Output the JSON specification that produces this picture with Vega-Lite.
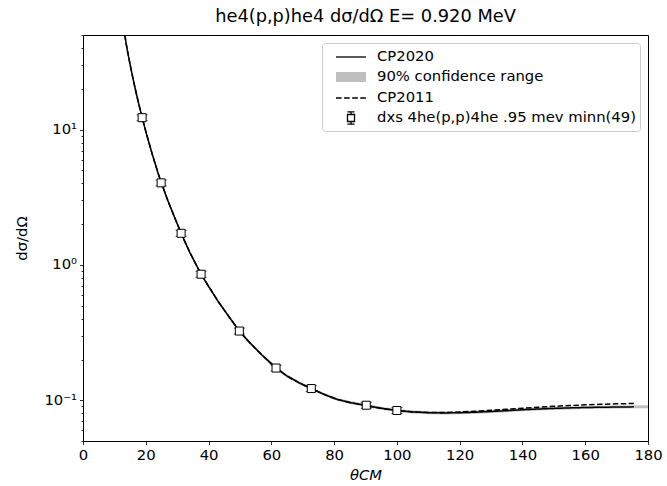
{
  "$schema": "https://vega.github.io/schema/vega-lite/v6.json",
  "autosize": {"type": "none"},
  "padding": {"left": 83, "top": 35, "right": 19, "bottom": 45},
  "width": 565,
  "height": 406,
  "background": "white",
  "config": {
    "view": {"stroke": "#000", "strokeWidth": 1},
    "font": "DejaVu Sans",
    "legend": {
      "orient": "none", "legendX": 239, "legendY": 8,
      "padding": 4, "fillColor": "rgba(255,255,255,0.8)", "strokeColor": "#cccccc", "cornerRadius": 3,
      "symbolSize": 324, "symbolOffset": 15, "labelOffset": 16, "rowPadding": 3,
      "labelFont": "DejaVu Sans", "labelFontSize": 14.8, "labelColor": "#000", "labelLimit": 400,
      "symbolStrokeWidth": 1.3, "symbolOpacity": 1
    }
  },
  "title": {"text": "he4(p,p)he4 dσ/dΩ E= 0.920 MeV", "fontSize": 17.8, "font": "DejaVu Sans", "fontWeight": "normal", "color": "#000", "offset": 1},
  "datasets": {
    "band": [
      {"theta": 13.3, "lo": 48.75, "hi": 51.25},
      {"theta": 14, "lo": 38.9, "hi": 40.9},
      {"theta": 15, "lo": 29.54, "hi": 31.06},
      {"theta": 16, "lo": 22.82, "hi": 23.99},
      {"theta": 17, "lo": 17.94, "hi": 18.86},
      {"theta": 18, "lo": 14.33, "hi": 15.07},
      {"theta": 19, "lo": 11.6, "hi": 12.2},
      {"theta": 20, "lo": 9.46, "hi": 9.94},
      {"theta": 22, "lo": 6.48, "hi": 6.82},
      {"theta": 24, "lo": 4.58, "hi": 4.82},
      {"theta": 25, "lo": 3.92, "hi": 4.12},
      {"theta": 27, "lo": 2.93, "hi": 3.08},
      {"theta": 29, "lo": 2.24, "hi": 2.36},
      {"theta": 31.26, "lo": 1.67, "hi": 1.756},
      {"theta": 34, "lo": 1.209, "hi": 1.271},
      {"theta": 37.62, "lo": 0.833, "hi": 0.875},
      {"theta": 40, "lo": 0.678, "hi": 0.712},
      {"theta": 43, "lo": 0.5265, "hi": 0.5535},
      {"theta": 46, "lo": 0.419, "hi": 0.441},
      {"theta": 49.81, "lo": 0.3165, "hi": 0.3327},
      {"theta": 53, "lo": 0.2613, "hi": 0.2747},
      {"theta": 57, "lo": 0.2106, "hi": 0.2214},
      {"theta": 61.5, "lo": 0.1687, "hi": 0.1773},
      {"theta": 65, "lo": 0.1472, "hi": 0.1548},
      {"theta": 69, "lo": 0.1307, "hi": 0.1374},
      {"theta": 72.73, "lo": 0.119, "hi": 0.125},
      {"theta": 77, "lo": 0.1073, "hi": 0.1128},
      {"theta": 81, "lo": 0.099, "hi": 0.104},
      {"theta": 85, "lo": 0.0938, "hi": 0.0986},
      {"theta": 90.24, "lo": 0.0892, "hi": 0.0938},
      {"theta": 95, "lo": 0.085, "hi": 0.0894},
      {"theta": 100, "lo": 0.0819, "hi": 0.0861},
      {"theta": 105, "lo": 0.08, "hi": 0.0841},
      {"theta": 110, "lo": 0.0789, "hi": 0.0829},
      {"theta": 115, "lo": 0.0786, "hi": 0.0826},
      {"theta": 120, "lo": 0.0789, "hi": 0.0829},
      {"theta": 125, "lo": 0.0796, "hi": 0.0836},
      {"theta": 130, "lo": 0.0805, "hi": 0.0847},
      {"theta": 135, "lo": 0.0817, "hi": 0.0859},
      {"theta": 140, "lo": 0.083, "hi": 0.0872},
      {"theta": 145, "lo": 0.084, "hi": 0.0884},
      {"theta": 150, "lo": 0.0849, "hi": 0.0893},
      {"theta": 155, "lo": 0.0856, "hi": 0.09},
      {"theta": 160, "lo": 0.0862, "hi": 0.0906},
      {"theta": 165, "lo": 0.0866, "hi": 0.091},
      {"theta": 170, "lo": 0.0869, "hi": 0.0913},
      {"theta": 175.5, "lo": 0.0872, "hi": 0.0916},
      {"theta": 180, "lo": 0.0874, "hi": 0.0918}
    ],
    "curves": [
      {"theta": 13.3, "y": 50, "model": "CP2020"},
      {"theta": 14, "y": 39.9, "model": "CP2020"},
      {"theta": 15, "y": 30.3, "model": "CP2020"},
      {"theta": 16, "y": 23.4, "model": "CP2020"},
      {"theta": 17, "y": 18.4, "model": "CP2020"},
      {"theta": 18, "y": 14.7, "model": "CP2020"},
      {"theta": 19, "y": 11.9, "model": "CP2020"},
      {"theta": 20, "y": 9.7, "model": "CP2020"},
      {"theta": 22, "y": 6.65, "model": "CP2020"},
      {"theta": 24, "y": 4.7, "model": "CP2020"},
      {"theta": 25, "y": 4.02, "model": "CP2020"},
      {"theta": 27, "y": 3.0, "model": "CP2020"},
      {"theta": 29, "y": 2.3, "model": "CP2020"},
      {"theta": 31.26, "y": 1.713, "model": "CP2020"},
      {"theta": 34, "y": 1.24, "model": "CP2020"},
      {"theta": 37.62, "y": 0.854, "model": "CP2020"},
      {"theta": 40, "y": 0.695, "model": "CP2020"},
      {"theta": 43, "y": 0.54, "model": "CP2020"},
      {"theta": 46, "y": 0.43, "model": "CP2020"},
      {"theta": 49.81, "y": 0.3246, "model": "CP2020"},
      {"theta": 53, "y": 0.268, "model": "CP2020"},
      {"theta": 57, "y": 0.216, "model": "CP2020"},
      {"theta": 61.5, "y": 0.173, "model": "CP2020"},
      {"theta": 65, "y": 0.151, "model": "CP2020"},
      {"theta": 69, "y": 0.134, "model": "CP2020"},
      {"theta": 72.73, "y": 0.122, "model": "CP2020"},
      {"theta": 77, "y": 0.110, "model": "CP2020"},
      {"theta": 81, "y": 0.1015, "model": "CP2020"},
      {"theta": 85, "y": 0.0962, "model": "CP2020"},
      {"theta": 90.24, "y": 0.0915, "model": "CP2020"},
      {"theta": 95, "y": 0.0872, "model": "CP2020"},
      {"theta": 100, "y": 0.084, "model": "CP2020"},
      {"theta": 105, "y": 0.082, "model": "CP2020"},
      {"theta": 110, "y": 0.0809, "model": "CP2020"},
      {"theta": 115, "y": 0.0806, "model": "CP2020"},
      {"theta": 120, "y": 0.0809, "model": "CP2020"},
      {"theta": 125, "y": 0.0816, "model": "CP2020"},
      {"theta": 130, "y": 0.0826, "model": "CP2020"},
      {"theta": 135, "y": 0.0838, "model": "CP2020"},
      {"theta": 140, "y": 0.0851, "model": "CP2020"},
      {"theta": 145, "y": 0.0862, "model": "CP2020"},
      {"theta": 150, "y": 0.0871, "model": "CP2020"},
      {"theta": 155, "y": 0.0878, "model": "CP2020"},
      {"theta": 160, "y": 0.0884, "model": "CP2020"},
      {"theta": 165, "y": 0.0888, "model": "CP2020"},
      {"theta": 170, "y": 0.0891, "model": "CP2020"},
      {"theta": 175.5, "y": 0.0894, "model": "CP2020"},
      {"theta": 13.3, "y": 50, "model": "CP2011"},
      {"theta": 14, "y": 39.9, "model": "CP2011"},
      {"theta": 15, "y": 30.3, "model": "CP2011"},
      {"theta": 16, "y": 23.4, "model": "CP2011"},
      {"theta": 17, "y": 18.4, "model": "CP2011"},
      {"theta": 18, "y": 14.7, "model": "CP2011"},
      {"theta": 19, "y": 11.9, "model": "CP2011"},
      {"theta": 20, "y": 9.7, "model": "CP2011"},
      {"theta": 22, "y": 6.65, "model": "CP2011"},
      {"theta": 24, "y": 4.7, "model": "CP2011"},
      {"theta": 25, "y": 4.02, "model": "CP2011"},
      {"theta": 27, "y": 3.0, "model": "CP2011"},
      {"theta": 29, "y": 2.3, "model": "CP2011"},
      {"theta": 31.26, "y": 1.713, "model": "CP2011"},
      {"theta": 34, "y": 1.24, "model": "CP2011"},
      {"theta": 37.62, "y": 0.854, "model": "CP2011"},
      {"theta": 40, "y": 0.695, "model": "CP2011"},
      {"theta": 43, "y": 0.54, "model": "CP2011"},
      {"theta": 46, "y": 0.43, "model": "CP2011"},
      {"theta": 49.81, "y": 0.3246, "model": "CP2011"},
      {"theta": 53, "y": 0.268, "model": "CP2011"},
      {"theta": 57, "y": 0.216, "model": "CP2011"},
      {"theta": 61.5, "y": 0.173, "model": "CP2011"},
      {"theta": 65, "y": 0.151, "model": "CP2011"},
      {"theta": 69, "y": 0.134, "model": "CP2011"},
      {"theta": 72.73, "y": 0.122, "model": "CP2011"},
      {"theta": 77, "y": 0.110, "model": "CP2011"},
      {"theta": 81, "y": 0.1015, "model": "CP2011"},
      {"theta": 85, "y": 0.0962, "model": "CP2011"},
      {"theta": 90.24, "y": 0.0915, "model": "CP2011"},
      {"theta": 95, "y": 0.0872, "model": "CP2011"},
      {"theta": 100, "y": 0.084, "model": "CP2011"},
      {"theta": 105, "y": 0.0821, "model": "CP2011"},
      {"theta": 110, "y": 0.0811, "model": "CP2011"},
      {"theta": 115, "y": 0.0812, "model": "CP2011"},
      {"theta": 120, "y": 0.0819, "model": "CP2011"},
      {"theta": 125, "y": 0.083, "model": "CP2011"},
      {"theta": 130, "y": 0.0843, "model": "CP2011"},
      {"theta": 135, "y": 0.0858, "model": "CP2011"},
      {"theta": 140, "y": 0.0873, "model": "CP2011"},
      {"theta": 145, "y": 0.0888, "model": "CP2011"},
      {"theta": 150, "y": 0.0902, "model": "CP2011"},
      {"theta": 155, "y": 0.0914, "model": "CP2011"},
      {"theta": 160, "y": 0.0925, "model": "CP2011"},
      {"theta": 165, "y": 0.0934, "model": "CP2011"},
      {"theta": 170, "y": 0.0941, "model": "CP2011"},
      {"theta": 175.5, "y": 0.0946, "model": "CP2011"}
    ],
    "exp": [
      {"theta": 18.84, "y": 12.25, "lo": 11.64, "hi": 12.86, "series": "dxs 4he(p,p)4he .95 mev minn(49)"},
      {"theta": 24.89, "y": 4.04, "lo": 3.84, "hi": 4.24, "series": "dxs 4he(p,p)4he .95 mev minn(49)"},
      {"theta": 31.26, "y": 1.713, "lo": 1.627, "hi": 1.799, "series": "dxs 4he(p,p)4he .95 mev minn(49)"},
      {"theta": 37.62, "y": 0.854, "lo": 0.811, "hi": 0.897, "series": "dxs 4he(p,p)4he .95 mev minn(49)"},
      {"theta": 49.81, "y": 0.3246, "lo": 0.3084, "hi": 0.3408, "series": "dxs 4he(p,p)4he .95 mev minn(49)"},
      {"theta": 61.5, "y": 0.173, "lo": 0.1644, "hi": 0.1817, "series": "dxs 4he(p,p)4he .95 mev minn(49)"},
      {"theta": 72.73, "y": 0.122, "lo": 0.1159, "hi": 0.1281, "series": "dxs 4he(p,p)4he .95 mev minn(49)"},
      {"theta": 90.24, "y": 0.0919, "lo": 0.0873, "hi": 0.0965, "series": "dxs 4he(p,p)4he .95 mev minn(49)"},
      {"theta": 100.0, "y": 0.084, "lo": 0.0798, "hi": 0.0882, "series": "dxs 4he(p,p)4he .95 mev minn(49)"}
    ]
  },
  "encoding": {
    "x": {
      "field": "theta", "type": "quantitative", "title": "θCM",
      "scale": {"domain": [0, 180], "nice": false, "zero": false},
      "axis": {
        "values": [0, 20, 40, 60, 80, 100, 120, 140, 160, 180],
        "grid": false, "domain": false, "tickSize": 3.5, "tickColor": "#000", "tickWidth": 0.8,
        "labelFont": "DejaVu Sans", "labelFontSize": 14.8, "labelColor": "#000", "labelPadding": 3,
        "labelFlush": false, "labelOverlap": false,
        "titleFont": "DejaVu Sans", "titleFontSize": 14.8, "titleFontStyle": "italic", "titleFontWeight": "normal", "titleColor": "#000", "titlePadding": 5
      }
    }
  },
  "layer": [
    {
      "data": {"name": "band"},
      "mark": {"type": "area", "color": "#bfbfbf", "opacity": 1, "clip": true},
      "encoding": {
        "y": {"field": "lo", "type": "quantitative", "title": "dσ/dΩ",
              "scale": {"type": "log", "domain": [0.05, 50], "nice": false}},
        "y2": {"field": "hi"}
      }
    },
    {
      "data": {"name": "curves"},
      "mark": {"type": "line", "color": "#000", "strokeWidth": 1.5, "clip": true},
      "encoding": {
        "y": {"field": "y", "type": "quantitative", "title": "dσ/dΩ",
              "scale": {"type": "log", "domain": [0.05, 50], "nice": false}},
        "strokeDash": {"field": "model", "type": "nominal", "legend": null,
                       "scale": {"domain": ["CP2020", "CP2011"], "range": [[1, 0], [5.5, 2.4]]}},
        "detail": {"field": "model"}
      }
    },
    {
      "data": {"name": "exp"},
      "mark": {"type": "errorbar", "color": "#000", "thickness": 1, "ticks": {"size": 11, "color": "#000", "thickness": 1}},
      "encoding": {
        "y": {"field": "lo", "type": "quantitative", "title": "dσ/dΩ",
              "scale": {"type": "log", "domain": [0.05, 50], "nice": false}},
        "y2": {"field": "hi"}
      }
    },
    {
      "data": {"name": "exp"},
      "mark": {"type": "point", "shape": "square", "filled": true, "fill": "#fff", "stroke": "#000", "strokeWidth": 1, "size": 64, "opacity": 1},
      "encoding": {
        "y": {"field": "y", "type": "quantitative", "title": "dσ/dΩ",
              "scale": {"type": "log", "domain": [0.05, 50], "nice": false},
              "axis": {
                "values": [0.05, 0.06, 0.07, 0.08, 0.09, 0.1, 0.2, 0.3, 0.4, 0.5, 0.6, 0.7, 0.8, 0.9, 1, 2, 3, 4, 5, 6, 7, 8, 9, 10, 20, 30, 40, 50],
                "labelExpr": "datum.value == 0.1 ? '10⁻¹' : datum.value == 1 ? '10⁰' : datum.value == 10 ? '10¹' : ''",
                "tickSize": {"condition": {"test": "datum.value == 0.1 || datum.value == 1 || datum.value == 10", "value": 3.5}, "value": 2},
                "tickColor": "#000", "tickWidth": 0.8,
                "grid": false, "domain": false,
                "labelFont": "DejaVu Sans", "labelFontSize": 14.8, "labelColor": "#000", "labelPadding": 3,
                "labelFlush": false, "labelOverlap": false,
                "titleFont": "DejaVu Sans", "titleFontSize": 14.8, "titleFontWeight": "normal", "titleColor": "#000", "titlePadding": 14
              }}
      }
    },
    {
      "data": {"name": "exp"},
      "mark": {"type": "point", "filled": true, "size": 64, "opacity": 0, "strokeWidth": 1.3},
      "encoding": {
        "y": {"field": "y", "type": "quantitative", "title": "dσ/dΩ",
              "scale": {"type": "log", "domain": [0.05, 50], "nice": false}},
        "shape": {
          "field": "series", "type": "nominal", "legend": {"title": null},
          "scale": {
            "domain": ["CP2020", "90% confidence range", "CP2011", "dxs 4he(p,p)4he .95 mev minn(49)"],
            "range": ["M-1.667,0H1.667", "M-1.667,-0.556H1.667V0.556H-1.667Z", "M-1.667,0H-1.044M-0.767,0H-0.144M0.133,0H0.756M1.033,0H1.656", "M-0.39,-0.39H0.39V0.39H-0.39Z M-0.39,-0.67H0.39 M-0.39,0.67H0.39 M0,-0.67V-0.39 M0,0.39V0.67"]
          }
        },
        "fill": {
          "field": "series", "type": "nominal", "legend": {"title": null},
          "scale": {
            "domain": ["CP2020", "90% confidence range", "CP2011", "dxs 4he(p,p)4he .95 mev minn(49)"],
            "range": ["transparent", "#bfbfbf", "transparent", "#ffffff"]
          }
        },
        "stroke": {
          "field": "series", "type": "nominal", "legend": {"title": null},
          "scale": {
            "domain": ["CP2020", "90% confidence range", "CP2011", "dxs 4he(p,p)4he .95 mev minn(49)"],
            "range": ["#000000", "transparent", "#000000", "#000000"]
          }
        }
      }
    }
  ]
}
